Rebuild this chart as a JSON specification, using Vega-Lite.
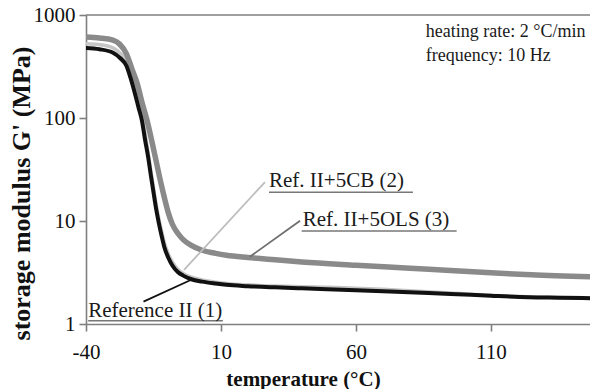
{
  "$schema": "https://vega.github.io/schema/vega-lite/v6.json",
  "width": 504,
  "height": 309,
  "autosize": {"type": "none"},
  "padding": {"left": 86, "top": 15, "right": 0, "bottom": 65},
  "background": "white",
  "config": {
    "view": {"stroke": null},
    "font": "Liberation Serif",
    "axis": {
      "labelFont": "Liberation Serif",
      "titleFont": "Liberation Serif",
      "labelFontSize": 21,
      "labelColor": "#111111",
      "titleColor": "#111111",
      "titleFontWeight": "bold",
      "labelFlush": false,
      "domainColor": "#7f7f7f",
      "domainWidth": 1.6,
      "tickColor": "#7f7f7f",
      "tickWidth": 1.6,
      "tickSize": 7,
      "grid": false
    }
  },
  "datasets": {
    "curves": [
      {"s": "2", "T": -40, "G": 525}, {"s": "2", "T": -35, "G": 515}, {"s": "2", "T": -30, "G": 480},
      {"s": "2", "T": -27.5, "G": 430}, {"s": "2", "T": -25, "G": 355}, {"s": "2", "T": -23.5, "G": 275},
      {"s": "2", "T": -22, "G": 200}, {"s": "2", "T": -20.5, "G": 140}, {"s": "2", "T": -19.3, "G": 105},
      {"s": "2", "T": -18, "G": 68}, {"s": "2", "T": -17, "G": 46}, {"s": "2", "T": -16, "G": 31},
      {"s": "2", "T": -15, "G": 21}, {"s": "2", "T": -14, "G": 14.5}, {"s": "2", "T": -13, "G": 10.5},
      {"s": "2", "T": -12, "G": 8}, {"s": "2", "T": -11, "G": 6.2}, {"s": "2", "T": -9.5, "G": 4.8},
      {"s": "2", "T": -8, "G": 4.0}, {"s": "2", "T": -6, "G": 3.4}, {"s": "2", "T": -4, "G": 3.1},
      {"s": "2", "T": -1, "G": 2.85}, {"s": "2", "T": 3, "G": 2.68}, {"s": "2", "T": 8, "G": 2.55},
      {"s": "2", "T": 12, "G": 2.48}, {"s": "2", "T": 20, "G": 2.4}, {"s": "2", "T": 30, "G": 2.34},
      {"s": "2", "T": 40, "G": 2.3}, {"s": "2", "T": 50, "G": 2.27}, {"s": "2", "T": 60, "G": 2.22},
      {"s": "2", "T": 70, "G": 2.17}, {"s": "2", "T": 80, "G": 2.1}, {"s": "2", "T": 95, "G": 2.0},
      {"s": "2", "T": 110, "G": 1.9}, {"s": "2", "T": 125, "G": 1.84}, {"s": "2", "T": 146.7, "G": 1.8},

      {"s": "3", "T": -40, "G": 611}, {"s": "3", "T": -35, "G": 598}, {"s": "3", "T": -30, "G": 570},
      {"s": "3", "T": -27.5, "G": 520}, {"s": "3", "T": -25, "G": 420}, {"s": "3", "T": -23, "G": 300},
      {"s": "3", "T": -21, "G": 215}, {"s": "3", "T": -19.2, "G": 140}, {"s": "3", "T": -17.4, "G": 95},
      {"s": "3", "T": -15.7, "G": 61}, {"s": "3", "T": -14, "G": 38}, {"s": "3", "T": -12.5, "G": 25},
      {"s": "3", "T": -11, "G": 17}, {"s": "3", "T": -9.5, "G": 12}, {"s": "3", "T": -8, "G": 9.3},
      {"s": "3", "T": -6, "G": 7.6}, {"s": "3", "T": -4, "G": 6.6}, {"s": "3", "T": -1, "G": 5.8},
      {"s": "3", "T": 3, "G": 5.2}, {"s": "3", "T": 8, "G": 4.85}, {"s": "3", "T": 12, "G": 4.65},
      {"s": "3", "T": 20, "G": 4.42}, {"s": "3", "T": 30, "G": 4.2}, {"s": "3", "T": 40, "G": 4.0},
      {"s": "3", "T": 60, "G": 3.72}, {"s": "3", "T": 80, "G": 3.48}, {"s": "3", "T": 95, "G": 3.3},
      {"s": "3", "T": 110, "G": 3.14}, {"s": "3", "T": 125, "G": 3.0}, {"s": "3", "T": 146.7, "G": 2.87},

      {"s": "1", "T": -40, "G": 478}, {"s": "1", "T": -35, "G": 465}, {"s": "1", "T": -30, "G": 430},
      {"s": "1", "T": -27.5, "G": 385}, {"s": "1", "T": -25, "G": 320}, {"s": "1", "T": -23.5, "G": 245},
      {"s": "1", "T": -22, "G": 178}, {"s": "1", "T": -20.5, "G": 125}, {"s": "1", "T": -19.3, "G": 95},
      {"s": "1", "T": -18.1, "G": 61}, {"s": "1", "T": -17, "G": 42}, {"s": "1", "T": -16, "G": 28},
      {"s": "1", "T": -15, "G": 19}, {"s": "1", "T": -14, "G": 13}, {"s": "1", "T": -13, "G": 9.5},
      {"s": "1", "T": -12, "G": 7.2}, {"s": "1", "T": -11, "G": 5.6}, {"s": "1", "T": -9.5, "G": 4.4},
      {"s": "1", "T": -8, "G": 3.7}, {"s": "1", "T": -6, "G": 3.2}, {"s": "1", "T": -4, "G": 2.95},
      {"s": "1", "T": -1, "G": 2.72}, {"s": "1", "T": 3, "G": 2.58}, {"s": "1", "T": 8, "G": 2.47},
      {"s": "1", "T": 12, "G": 2.4}, {"s": "1", "T": 20, "G": 2.33}, {"s": "1", "T": 30, "G": 2.27},
      {"s": "1", "T": 40, "G": 2.22}, {"s": "1", "T": 60, "G": 2.13}, {"s": "1", "T": 82, "G": 2.02},
      {"s": "1", "T": 95, "G": 1.96}, {"s": "1", "T": 110, "G": 1.88}, {"s": "1", "T": 124, "G": 1.82},
      {"s": "1", "T": 135, "G": 1.8}, {"s": "1", "T": 146.7, "G": 1.78}
    ],
    "labels": [
      {"s": "1", "text": "Reference II (1)", "T": -39.2, "G": 1.18},
      {"s": "2", "text": "Ref. II+5CB (2)", "T": 27.8, "G": 21.4},
      {"s": "3", "text": "Ref. II+5OLS (3)", "T": 40.3, "G": 8.94}
    ],
    "conditions": [
      {"text": "heating rate: 2 °C/min", "T": 85.9, "G": 611},
      {"text": "frequency: 10 Hz", "T": 85.9, "G": 357}
    ],
    "underlines": [
      {"s": "1", "T": -39.2, "T2": 10.7, "G": 1.077},
      {"s": "2", "T": 27.8, "T2": 81.1, "G": 19.0},
      {"s": "3", "T": 39.9, "T2": 97.3, "G": 8.0}
    ],
    "leaders": [
      {"s": "1", "T": -18.7, "G": 1.65, "T2": -0.6, "G2": 2.72},
      {"s": "2", "T": 26.3, "G": 23.9, "T2": -3.7, "G2": 3.35},
      {"s": "3", "T": 39.3, "G": 10.07, "T2": 20.7, "G2": 4.5}
    ]
  },
  "encoding": {
    "x": {
      "field": "T", "type": "quantitative",
      "scale": {"domain": [-40, 146.7], "nice": false, "zero": false},
      "axis": {
        "values": [-40, 10, 60, 110],
        "labelExpr": "'' + datum.value",
        "title": "temperature (°C)",
        "titleFontSize": 21,
        "labelPadding": 10,
        "titleAlign": "center",
        "titleAnchor": "start",
        "titleX": 217,
        "titleY": 61,
        "titleBaseline": "alphabetic"
      }
    },
    "y": {
      "field": "G", "type": "quantitative",
      "scale": {"type": "log", "domain": [1, 1000], "nice": false},
      "axis": {
        "values": [1, 10, 100, 1000],
        "labelExpr": "'' + datum.value",
        "labelPadding": 4,
        "title": "storage modulus G' (MPa)",
        "titleFontSize": 26,
        "titleAnchor": "start",
        "titleAlign": "center",
        "titleBaseline": "middle",
        "titleX": -65,
        "titleY": 178
      }
    }
  },
  "layer": [
    {
      "data": {"name": "curves"},
      "transform": [{"filter": "datum.s === '2'"}],
      "mark": {"type": "line", "clip": true, "color": "#c6c6c6", "strokeWidth": 3.5, "strokeCap": "round", "strokeJoin": "round", "interpolate": "monotone"},
      "encoding": {"order": {"field": "T", "type": "quantitative"}}
    },
    {
      "data": {"name": "curves"},
      "transform": [{"filter": "datum.s === '3'"}],
      "mark": {"type": "line", "clip": true, "color": "#8a8a8a", "strokeWidth": 5.5, "strokeCap": "round", "strokeJoin": "round", "interpolate": "monotone"},
      "encoding": {"order": {"field": "T", "type": "quantitative"}}
    },
    {
      "data": {"name": "curves"},
      "transform": [{"filter": "datum.s === '1'"}],
      "mark": {"type": "line", "clip": true, "color": "#111111", "strokeWidth": 4, "strokeCap": "round", "strokeJoin": "round", "interpolate": "monotone"},
      "encoding": {"order": {"field": "T", "type": "quantitative"}}
    },
    {
      "data": {"values": [{"G": 1000}]},
      "mark": {"type": "rule", "color": "#7f7f7f", "strokeWidth": 1.6},
      "encoding": {"x": null}
    },
    {
      "data": {"name": "leaders"},
      "mark": {"type": "rule", "strokeWidth": 1.8},
      "encoding": {
        "x2": {"field": "T2"},
        "y2": {"field": "G2"},
        "color": {
          "field": "s", "type": "nominal", "legend": null,
          "scale": {"domain": ["1", "2", "3"], "range": ["#111111", "#bdbdbd", "#6e6e6e"]}
        }
      }
    },
    {
      "data": {"name": "underlines"},
      "mark": {"type": "rule", "strokeWidth": 1.6, "color": "#777777"},
      "encoding": {"x2": {"field": "T2"}}
    },
    {
      "data": {"name": "labels"},
      "mark": {"type": "text", "align": "left", "baseline": "alphabetic", "fontSize": 21, "font": "Liberation Serif", "color": "#1a1a1a"},
      "encoding": {"text": {"field": "text"}}
    },
    {
      "data": {"name": "conditions"},
      "mark": {"type": "text", "align": "left", "baseline": "alphabetic", "fontSize": 18, "font": "Liberation Serif", "color": "#1a1a1a"},
      "encoding": {"text": {"field": "text"}}
    }
  ]
}
